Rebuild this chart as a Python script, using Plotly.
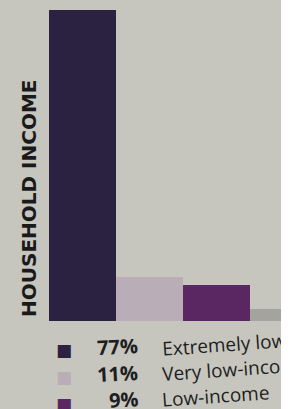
import plotly.graph_objects as go

categories = ["Extremely low-income", "Very low-income", "Low-income", "Moderate-income"]
values = [77, 11, 9, 3]
colors = ["#2b2140", "#b9adb7", "#5b2763", "#a2a49d"]
pct_labels = ["77%", "11%", "9%"]
axis_title = "HOUSEHOLD INCOME"

W, H = 281, 409
L, R, T, B = 49, 0, 10, 88
pw, ph = W - L - R, H - T - B
bg = "#c6c6be"

def px(x):
    return (x - L) / pw

def py(y):
    return (H - B - y) / ph

fig = go.Figure()
fig.add_trace(go.Bar(
    x=list(range(len(categories))), y=values,
    marker=dict(color=colors, line=dict(width=0)),
    hoverinfo="skip", showlegend=False,
))

ann = []
row_y = [346, 373, 400]
for i, (p, c, lab) in enumerate(zip(pct_labels, colors, categories)):
    yy = row_y[i]
    ann.append(dict(x=px(64), y=py(yy + 4), xref="paper", yref="paper", text="■",
                    showarrow=False, font=dict(size=17, color=c, family="DejaVu Sans"),
                    xanchor="center", yanchor="middle"))
    ann.append(dict(x=px(141), y=py(yy), xref="paper", yref="paper", text="<b>" + p + "</b>",
                    showarrow=False, font=dict(size=20, color="#1e1e22", family="Open Sans"),
                    xanchor="right", yanchor="middle", textangle=-3))
    ann.append(dict(x=px(159), y=py(yy - 4), xref="paper", yref="paper", text=lab,
                    showarrow=False, font=dict(size=19, color="#1e1e22", family="Open Sans"),
                    xanchor="left", yanchor="middle", textangle=-4))

ann.append(dict(x=px(29), y=py(198), xref="paper", yref="paper", text="<b>" + axis_title + "</b>",
                showarrow=False, textangle=-90,
                font=dict(size=20, color="#1a1a1a", family="DejaVu Sans"),
                xanchor="center", yanchor="middle"))

fig.update_layout(
    width=W, height=H,
    margin=dict(l=L, r=R, t=T, b=B),
    paper_bgcolor=bg, plot_bgcolor=bg,
    bargap=0,
    xaxis=dict(range=[-0.5, 2.96], visible=False, fixedrange=True),
    yaxis=dict(range=[0, 77], visible=False, fixedrange=True),
    annotations=ann,
)

fig.write_html("out.html", config={"displayModeBar": False},
               post_script="document.body.style.margin='0';document.body.style.overflow='hidden';document.body.style.background='white';")
